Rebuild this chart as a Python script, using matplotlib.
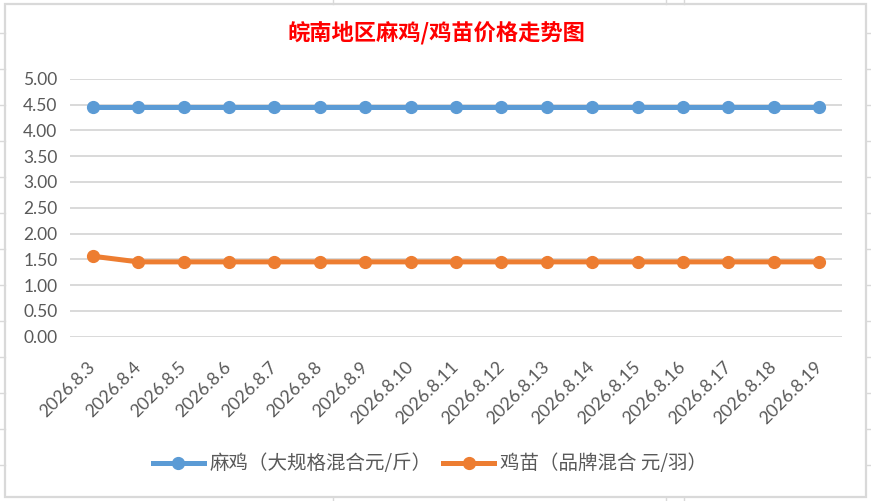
import matplotlib
matplotlib.use('Agg')
import matplotlib.pyplot as plt
from matplotlib.lines import Line2D
from matplotlib.patches import Rectangle

plt.rcParams['font.family'] = ['Lato', 'Noto Sans CJK SC', 'DejaVu Sans']

# ---- données ----
dates = ['2026.8.3', '2026.8.4', '2026.8.5', '2026.8.6', '2026.8.7', '2026.8.8',
         '2026.8.9', '2026.8.10', '2026.8.11', '2026.8.12', '2026.8.13', '2026.8.14',
         '2026.8.15', '2026.8.16', '2026.8.17', '2026.8.18', '2026.8.19']
maji = [4.45, 4.45, 4.45, 4.45, 4.45, 4.45, 4.45, 4.45, 4.45,
        4.45, 4.45, 4.45, 4.45, 4.45, 4.45, 4.45, 4.45]
jimiao = [1.56, 1.45, 1.45, 1.45, 1.45, 1.45, 1.45, 1.45, 1.45,
          1.45, 1.45, 1.45, 1.45, 1.45, 1.45, 1.45, 1.45]
yticks = [0.0, 0.5, 1.0, 1.5, 2.0, 2.5, 3.0, 3.5, 4.0, 4.5, 5.0]
label_maji = '麻鸡（大规格混合元/斤）'
label_jimiao = '鸡苗（品牌混合 元/羽）'
titre = '皖南地区麻鸡/鸡苗价格走势图'

W, H = 871, 501
fig = plt.figure(figsize=(W / 100, H / 100), dpi=100)

# fond type tableur autour du graphique
for y in range(33, H, 36):
    fig.add_artist(Line2D([0, 5 / W], [1 - y / H, 1 - y / H], color='#D9D9D9', lw=1))
    fig.add_artist(Line2D([866 / W, 1], [1 - y / H, 1 - y / H], color='#D9D9D9', lw=1))
for x in [333, 666, 684]:
    fig.add_artist(Line2D([x / W, x / W], [1, 1 - 4 / H], color='#D9D9D9', lw=1))
    fig.add_artist(Line2D([x / W, x / W], [0, 4 / H], color='#D9D9D9', lw=1))
fig.add_artist(Rectangle((5 / W, 4 / H), 861 / W, 493 / H, fill=False,
                         edgecolor='#D9D9D9', lw=1.6))

# zone de tracé
x0, x1, y0, y1 = 70, 842, 78.7, 336.7
ax = fig.add_axes([x0 / W, 1 - y1 / H, (x1 - x0) / W, (y1 - y0) / H])

idx = list(range(len(dates)))
ax.plot(idx, maji, color='#5B9BD5', lw=3.6, marker='o', markersize=8.5, label=label_maji)
ax.plot(idx, jimiao, color='#ED7D31', lw=3.6, marker='o', markersize=8.5, label=label_jimiao)

ax.set_xlim(-0.5, len(dates) - 0.5)
ax.set_ylim(0, 5)
ax.set_yticks(yticks)
ax.set_yticklabels([f'{v:.2f}' for v in yticks])
ax.set_xticks(idx)
ax.set_xticklabels(dates, rotation=45, ha='right', va='center', rotation_mode='anchor')
ax.tick_params(axis='y', length=0, pad=9, labelsize=12.5, labelcolor='#595959')
ax.tick_params(axis='x', length=0, pad=20, labelsize=12.8, labelcolor='#595959')
ax.grid(axis='y', color='#D9D9D9', lw=1.4)
ax.set_axisbelow(True)
for s in ax.spines.values():
    s.set_visible(False)

fig.text(436 / W, 1 - 33 / H, titre, color='#FF0000', fontsize=16, fontweight='bold',
         family=['Noto Sans CJK SC'], ha='center', va='center')

leg = fig.legend(loc='center', bbox_to_anchor=(430 / W, 1 - 464 / H), ncol=2, frameon=False,
                 handlelength=2.6, handletextpad=0.3, columnspacing=0.6,
                 prop={'family': ['Noto Sans CJK SC'], 'size': 14})
for t in leg.get_texts():
    t.set_color('#595959')

fig.savefig('out.png', dpi=100)
